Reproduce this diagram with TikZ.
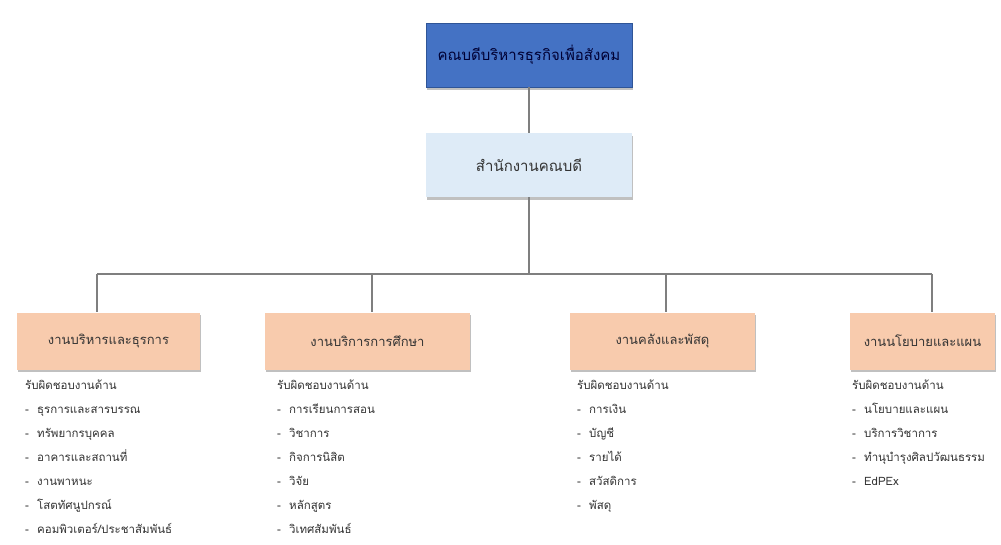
\documentclass[tikz,border=0pt]{standalone}
\usepackage{fontspec}
\newfontfamily\thai[Script=Thai]{Loma}
\usetikzlibrary{shadows}
\definecolor{topblue}{HTML}{4472C4}
\definecolor{topborder}{HTML}{2F5597}
\definecolor{lightblue}{HTML}{DEEBF7}
\definecolor{peach}{HTML}{F8CBAD}
\definecolor{linegray}{HTML}{7F7F7F}
\definecolor{txt}{HTML}{333333}
\tikzset{
  boxshadow/.style={drop shadow={shadow xshift=1pt,shadow yshift=-2.5pt,fill=black!35,opacity=0.7}},
  topbox/.style={draw=topborder,line width=0.6pt,fill=topblue,minimum width=206pt,minimum height=64pt,
     font=\thai\fontsize{15}{17}\selectfont,text=black!80!blue,boxshadow},
  officebox/.style={fill=lightblue,minimum width=206pt,minimum height=64pt,
     font=\thai\fontsize{15}{17}\selectfont,text=txt,boxshadow},
  unitbox/.style={fill=peach,minimum height=57pt,font=\thai\fontsize{13}{15}\selectfont,text=black!80,boxshadow},
  conn/.style={draw=linegray,line width=1.3pt},
  listnode/.style={anchor=north west,align=left,inner sep=0pt,font=\thai\fontsize{11.5}{24}\selectfont,text=txt}
}
\newcommand{\itm}[1]{\makebox[12pt][l]{-}#1}
\begin{document}
\begin{tikzpicture}[x=1pt,y=-1pt]
\useasboundingbox[fill=white] (0,0) rectangle (1001,544);
% top
\node[topbox] (dean) at (529,55) {คณบดีบริหารธุรกิจเพื่อสังคม};
\node[officebox] (office) at (529,165) {สำนักงานคณบดี};
% units
\node[unitbox,minimum width=183pt] (u1) at (108.5,341) {งานบริหารและธุรการ};
\node[unitbox,minimum width=205pt] (u2) at (367.5,341) {งานบริการการศึกษา};
\node[unitbox,minimum width=185pt] (u3) at (662.5,341) {งานคลังและพัสดุ};
\node[unitbox,minimum width=145pt] (u4) at (922.5,341) {งานนโยบายและแผน};
% connectors
\coordinate (hub) at (529,274);
\coordinate (j1) at (97,274);
\coordinate (j2) at (372,274);
\coordinate (j3) at (666,274);
\coordinate (j4) at (932,274);
\draw[conn] (dean.south) -- (office.north);
\draw[conn] (office.south) -- (hub);
\draw[conn] (j1) -- (j4);
\draw[conn] (j1) -- (j1 |- u1.north);
\draw[conn] (j2) -- (j2 |- u2.north);
\draw[conn] (j3) -- (j3 |- u3.north);
\draw[conn] (j4) -- (j4 |- u4.north);
% lists
\node[listnode] (l1) at (25,380) {รับผิดชอบงานด้าน\\
\itm{ธุรการและสารบรรณ}\\
\itm{ทรัพยากรบุคคล}\\
\itm{อาคารและสถานที่}\\
\itm{งานพาหนะ}\\
\itm{โสตทัศนูปกรณ์}\\
\itm{คอมพิวเตอร์/ประชาสัมพันธ์}};
\node[listnode] (l2) at (277,380) {รับผิดชอบงานด้าน\\
\itm{การเรียนการสอน}\\
\itm{วิชาการ}\\
\itm{กิจการนิสิต}\\
\itm{วิจัย}\\
\itm{หลักสูตร}\\
\itm{วิเทศสัมพันธ์}};
\node[listnode] (l3) at (577,380) {รับผิดชอบงานด้าน\\
\itm{การเงิน}\\
\itm{บัญชี}\\
\itm{รายได้}\\
\itm{สวัสดิการ}\\
\itm{พัสดุ}};
\node[listnode] (l4) at (852,380) {รับผิดชอบงานด้าน\\
\itm{นโยบายและแผน}\\
\itm{บริการวิชาการ}\\
\itm{ทำนุบำรุงศิลปวัฒนธรรม}\\
\itm{EdPEx}};
\end{tikzpicture}
\end{document}
